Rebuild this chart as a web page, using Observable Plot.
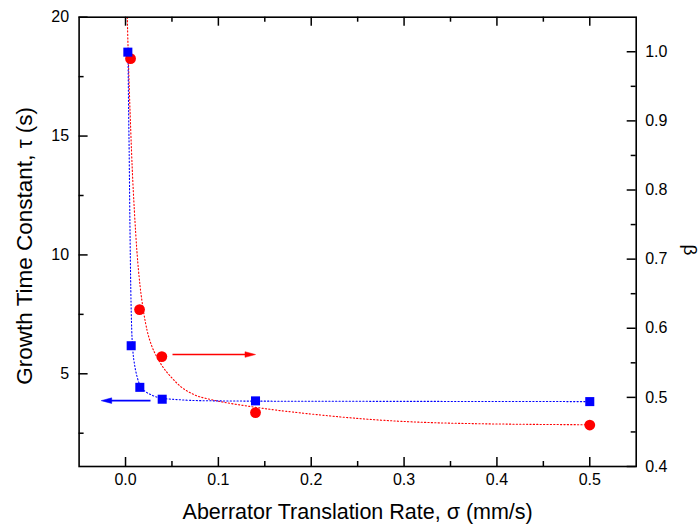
<!DOCTYPE html>
<html><head><meta charset="utf-8">
<script src="https://cdn.jsdelivr.net/npm/d3@7"></script>
<script src="https://cdn.jsdelivr.net/npm/@observablehq/plot@0.6"></script>
<style>body{margin:0;background:#fff}</style>
</head><body><div id="chart"></div>
<script>
// measured points: growth time constant tau (left axis)
const tauRate = [0.0025, 0.0061, 0.0154, 0.0395, 0.14, 0.5];
const tauValues = [18.53, 6.18, 4.43, 3.93, 3.86, 3.83];
// measured points: beta (right axis)
const betaRate = [0.0054, 0.0151, 0.0391, 0.14, 0.5];
const betaValues = [0.990, 0.627, 0.559, 0.478, 0.460];
// fitted curves (dotted)
const tauFitRate = [0.0027,0.0032,0.0039,0.0047,0.0057,0.0067,0.0079,0.0099,0.0127,0.0162,0.0215,0.0291,0.0377,0.0538,0.0808,0.14,0.2929,0.4997];
const tauFitValues = [18.51,16.50,14.39,11.45,8.50,6.82,5.98,5.35,4.84,4.46,4.25,4.09,3.98,3.92,3.87,3.85,3.84,3.83];
const betaFitRate = [0.0019,0.0028,0.0041,0.0056,0.0073,0.0095,0.0122,0.0156,0.0192,0.0232,0.0280,0.0334,0.0398,0.0485,0.0592,0.0732,0.0915,0.1098,0.1271,0.1486,0.1992,0.2692,0.35,0.4997];
const betaFitValues = [1.050,1.0025,0.9445,0.8866,0.8287,0.7707,0.7128,0.6621,0.6259,0.5970,0.5752,0.5593,0.5448,0.5303,0.5159,0.5043,0.4970,0.4920,0.4883,0.4840,0.4760,0.4676,0.4627,0.4604];
// axis arrows (which axis each series uses)
const betaArrowRate = [0.0506, 0.14];
const betaArrowLevel = 0.562;
const tauArrowRate = [0.0269, -0.0262];
const tauArrowLevel = 3.87;
// ticks
const xTicks = [0, 0.1, 0.2, 0.3, 0.4, 0.5];
const xMinorTicks = [0.05, 0.15, 0.25, 0.35, 0.45];
const tauTicks = [5, 10, 15, 20];
const tauMinorTicks = [2.5, 7.5, 12.5, 17.5];
const betaTicks = [0.4, 0.5, 0.6, 0.7, 0.8, 0.9, 1.0];
const betaMinorTicks = [0.45, 0.55, 0.65, 0.75, 0.85, 0.95];
const xDomain = [-0.05, 0.55];
const tauDomain = [1.1, 20];
const betaDomain = [0.4, 1.05];
const xTitle = "Aberrator Translation Rate, \u03C3 (mm/s)";
const tauTitle = "Growth Time Constant, \u03C4 (s)";
const betaTitle = "\u03B2";

const W = 700, H = 529;
const mL = 78.6, mR = 64.3, mT = 16.7, mB = 63;
const pw = W - mL - mR, ph = H - mT - mB;
const b2t = b => tauDomain[0] + (b - betaDomain[0]) / (betaDomain[1] - betaDomain[0]) * (tauDomain[1] - tauDomain[0]);

const tauPts = tauRate.map((x, i) => ({x, y: tauValues[i]}));
const betaPts = betaRate.map((x, i) => ({x, y: b2t(betaValues[i])}));
const tauFit = tauFitRate.map((x, i) => ({x, y: tauFitValues[i]}));
const betaFit = betaFitRate.map((x, i) => ({x, y: b2t(betaFitValues[i])}));

const headRight = {draw(ctx) { ctx.moveTo(0, 0); ctx.lineTo(-10.5, -2.8); ctx.lineTo(-10.5, 2.8); ctx.closePath(); }};
const headLeft = {draw(ctx) { ctx.moveTo(0, 0); ctx.lineTo(10.5, -2.8); ctx.lineTo(10.5, 2.8); ctx.closePath(); }};
const RED = "#ff0000", BLUE = "#0000ff";
const font = "'Liberation Sans', Arial, sans-serif";

const chart = Plot.plot({
  width: W, height: H,
  marginLeft: mL, marginRight: mR, marginTop: mT, marginBottom: mB,
  style: {fontFamily: font, background: "#fff", color: "#000"},
  x: {domain: xDomain, axis: null},
  y: {domain: tauDomain, axis: null},
  marks: [
    // fitted curves
    Plot.line(betaFit, {x: "x", y: "y", stroke: RED, strokeWidth: 1.1, strokeDasharray: "1.2 2.2", curve: "monotone-x"}),
    Plot.line(tauFit, {x: "x", y: "y", stroke: BLUE, strokeWidth: 1.1, strokeDasharray: "1.2 2.2", curve: "monotone-x"}),
    // arrows
    Plot.link([0], {x1: () => betaArrowRate[0], x2: () => betaArrowRate[1] - 0.008, y1: () => b2t(betaArrowLevel), y2: () => b2t(betaArrowLevel), stroke: RED, strokeWidth: 1.6}),
    Plot.dot([0], {x: () => betaArrowRate[1], y: () => b2t(betaArrowLevel), symbol: headRight, fill: RED, stroke: RED, strokeWidth: 0.5}),
    Plot.link([0], {x1: () => tauArrowRate[0], x2: () => tauArrowRate[1] + 0.008, y1: () => tauArrowLevel, y2: () => tauArrowLevel, stroke: BLUE, strokeWidth: 1.6}),
    Plot.dot([0], {x: () => tauArrowRate[1], y: () => tauArrowLevel, symbol: headLeft, fill: BLUE, stroke: BLUE, strokeWidth: 0.5}),
    // markers
    Plot.dot(betaPts, {x: "x", y: "y", r: 5.4, fill: RED, stroke: "none"}),
    Plot.dot(tauPts, {x: "x", y: "y", r: 5.1, symbol: "square", fill: BLUE, stroke: "none"}),
    // inward ticks
    Plot.tickX(xTicks, {x: d => d, insetTop: ph - 9, stroke: "#000", strokeWidth: 1.5}),
    Plot.tickX(xTicks, {x: d => d, insetBottom: ph - 9, stroke: "#000", strokeWidth: 1.5}),
    Plot.tickX(xMinorTicks, {x: d => d, insetTop: ph - 5, stroke: "#000", strokeWidth: 1.5}),
    Plot.tickX(xMinorTicks, {x: d => d, insetBottom: ph - 5, stroke: "#000", strokeWidth: 1.5}),
    Plot.tickY(tauTicks, {y: d => d, insetRight: pw - 9, stroke: "#000", strokeWidth: 1.5}),
    Plot.tickY(tauMinorTicks, {y: d => d, insetRight: pw - 5, stroke: "#000", strokeWidth: 1.5}),
    Plot.tickY(betaTicks, {y: d => b2t(d), insetLeft: pw - 9, stroke: "#000", strokeWidth: 1.5}),
    Plot.tickY(betaMinorTicks, {y: d => b2t(d), insetLeft: pw - 5, stroke: "#000", strokeWidth: 1.5}),
    Plot.frame({stroke: "#000", strokeWidth: 1.6}),
    // tick labels
    Plot.text(xTicks, {x: d => d, frameAnchor: "bottom", dy: 18, text: d => d.toFixed(1), fontSize: 16, fill: "#000"}),
    Plot.text(tauTicks, {y: d => d, frameAnchor: "left", textAnchor: "end", dx: -10, text: d => String(d), fontSize: 16, fill: "#000"}),
    Plot.text(betaTicks, {y: d => b2t(d), frameAnchor: "right", textAnchor: "start", dx: 9, text: d => d.toFixed(1), fontSize: 16, fill: "#000"}),
    // axis titles
    Plot.text([xTitle], {frameAnchor: "bottom", textAnchor: "middle", dy: 52, text: d => d, fontSize: 21.5, fill: "#000"}),
    Plot.text([tauTitle], {frameAnchor: "left", textAnchor: "middle", dx: -54, dy: 4, rotate: -90, text: d => d, fontSize: 22.5, fill: "#000"}),
    Plot.text([betaTitle], {frameAnchor: "right", textAnchor: "middle", dx: 54, dy: 8, rotate: 90, text: d => d, fontSize: 19, fill: "#000"})
  ]
});
document.getElementById("chart").appendChild(chart);
</script>
</body></html>
